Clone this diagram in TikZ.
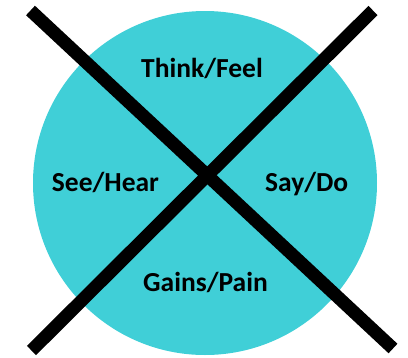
\documentclass[tikz,border=0pt]{standalone}
\usepackage{fontspec}
\setmainfont{Carlito}
\definecolor{turq}{RGB}{64,207,215}
\begin{document}
\begin{tikzpicture}[x=1pt,y=-1pt,
  lbl/.style={font=\fontsize{27.5}{32}\selectfont\bfseries, anchor=base, inner sep=0pt},
  bar/.style={line width=13pt, draw=black}]
\useasboundingbox (0,0) rectangle (408,357);
\fill[turq] (205,183) circle[radius=172pt];
\coordinate (tl) at (30.5,10.5);
\coordinate (br) at (393,348.5);
\coordinate (tr) at (373,10.5);
\coordinate (bl) at (31.5,350.5);
\draw[bar] (tl) -- (br);
\draw[bar] (tr) -- (bl);
\node[lbl] (think) at (202,77.7) {Think/Feel};
\node[lbl] (see) at (105.5,191.7) {See/Hear};
\node[lbl] (say) at (306.7,191.7) {Say/Do};
\node[lbl] (gains) at (205.5,291.7) {Gains/Pain};
\end{tikzpicture}
\end{document}
